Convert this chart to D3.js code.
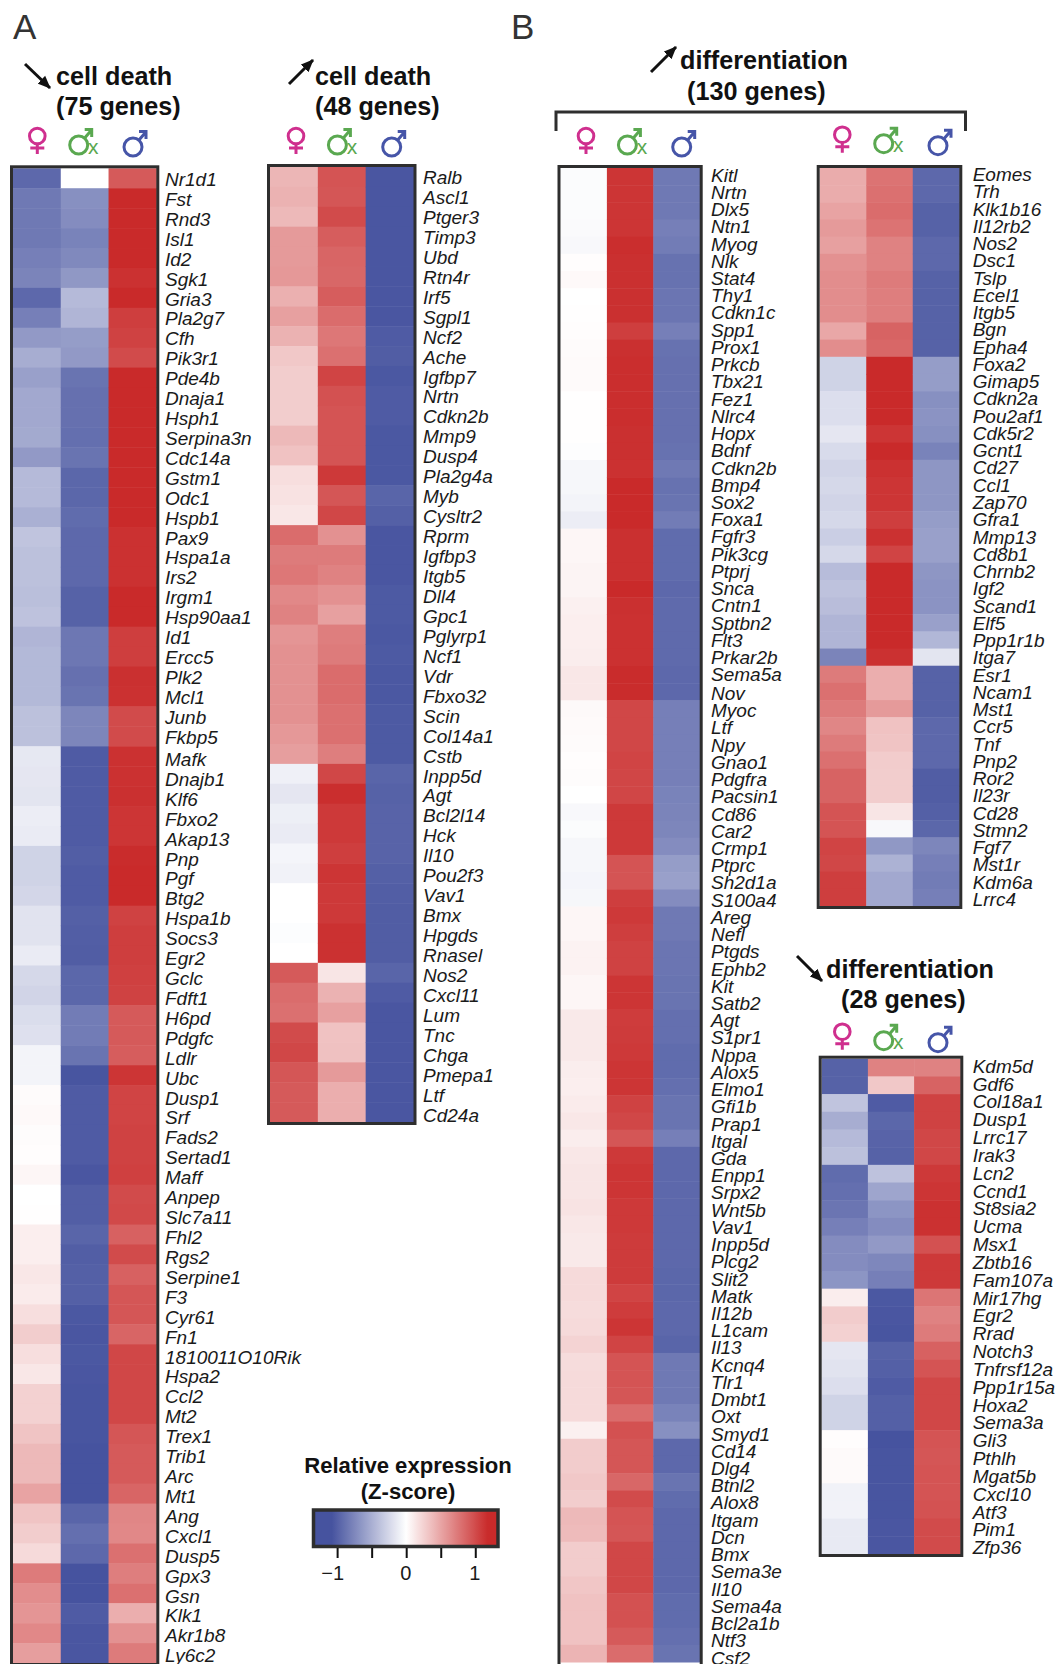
<!DOCTYPE html>
<html>
<head>
<meta charset="utf-8">
<style>
body { margin:0; background:#fff; }
svg { display:block; }
text { font-family:"Liberation Sans", Arial, sans-serif; fill:#1a1a1a; }
.gene { font-size:19px; font-style:italic; }
.title { font-size:25.2px; font-weight:bold; fill:#111; }
.legend-title { font-size:22.1px; font-weight:bold; fill:#111; }
.letter { font-size:35px; fill:#333; }
</style>
</head>
<body>
<div id="chart"></div>
<script src="https://cdn.jsdelivr.net/npm/d3@7"></script>
<script>
/*DATA
------------------------------------------------------
*/
const groups = ["female", "xy", "male"];
const legendTicks = [-1, -0.5, 0, 0.5, 1];

/*A, cell death down, 75 genes*/
const deathDownGenes = ["Nr1d1","Fst","Rnd3","Isl1","Id2","Sgk1","Gria3","Pla2g7","Cfh","Pik3r1",
	"Pde4b","Dnaja1","Hsph1","Serpina3n","Cdc14a","Gstm1","Odc1","Hspb1","Pax9","Hspa1a",
	"Irs2","Irgm1","Hsp90aa1","Id1","Ercc5","Plk2","Mcl1","Junb","Fkbp5","Mafk",
	"Dnajb1","Klf6","Fbxo2","Akap13","Pnp","Pgf","Btg2","Hspa1b","Socs3","Egr2",
	"Gclc","Fdft1","H6pd","Pdgfc","Ldlr","Ubc","Dusp1","Srf","Fads2","Sertad1",
	"Maff","Anpep","Slc7a11","Fhl2","Rgs2","Serpine1","F3","Cyr61","Fn1","1810011O10Rik",
	"Hspa2","Ccl2","Mt2","Trex1","Trib1","Arc","Mt1","Ang","Cxcl1","Dusp5",
	"Gpx3","Gsn","Klk1","Akr1b8","Ly6c2"];
const deathDownFemale = [-.92,-.82,-.82,-.82,-.78,-.75,-.92,-.78,-.62,-.5,
	-.58,-.53,-.53,-.52,-.62,-.42,-.42,-.48,-.36,-.38,
	-.38,-.39,-.37,-.45,-.43,-.43,-.43,-.38,-.38,-.14,
	-.15,-.16,-.11,-.12,-.27,-.27,-.25,-.17,-.17,-.12,
	-.24,-.26,-.21,-.19,-.07,-.07,.02,.03,.015,.01,
	.05,0,.005,.09,.09,.13,.11,.18,.27,.18,
	.13,.25,.25,.32,.38,.38,.5,.32,.27,.2,
	.72,.62,.58,.65,.53];
const deathDownXy = [0,-.68,-.7,-.76,-.72,-.63,-.42,-.45,-.6,-.62,
	-.85,-.87,-.87,-.88,-.85,-.93,-.93,-.9,-.92,-.92,
	-.92,-.96,-.96,-.83,-.83,-.87,-.85,-.74,-.74,-1,
	-1,-1,-1,-1,-.98,-1,-1,-.97,-.98,-.99,
	-.93,-.93,-.8,-.8,-.85,-1.04,-1,-1,-1,-1,
	-1.03,-.98,-.98,-.94,-.98,-.97,-.97,-1.02,-1.03,-1.02,
	-1.03,-1.04,-1.04,-1.04,-1.05,-1.05,-1.05,-.94,-.88,-.92,
	-1.05,-1.05,-1,-1.03,-1.03];
const deathDownMale = [.9,1.18,1.18,1.2,1.18,1.12,1.18,1.05,1.03,.98,
	1.17,1.18,1.18,1.18,1.18,1.17,1.17,1.16,1.12,1.12,
	1.12,1.18,1.18,1.05,1.05,1.13,1.12,.98,.98,1.12,
	1.12,1.13,1.1,1.1,1.15,1.17,1.16,1.03,1.05,1.05,
	1.04,1.03,.9,.9,.88,1.1,1.02,1.02,1.03,1.03,
	1.04,.98,.99,.86,.98,.86,.92,.92,.84,1,
	1,1,1,.92,.9,.9,.84,.66,.65,.78,
	.7,.78,.44,.6,.72];

/*A, cell death up, 48 genes*/
const deathUpGenes = ["Ralb","Ascl1","Ptger3","Timp3","Ubd","Rtn4r","Irf5","Sgpl1","Ncf2","Ache",
	"Igfbp7","Nrtn","Cdkn2b","Mmp9","Dusp4","Pla2g4a","Myb","Cysltr2","Rprm","Igfbp3",
	"Itgb5","Dll4","Gpc1","Pglyrp1","Ncf1","Vdr","Fbxo32","Scin","Col14a1","Cstb",
	"Inpp5d","Agt","Bcl2l14","Hck","Il10","Pou2f3","Vav1","Bmx","Hpgds","Rnasel",
	"Nos2","Cxcl11","Lum","Tnc","Chga","Pmepa1","Ltf","Cd24a"];
const deathUpFemale = [.4,.42,.38,.55,.55,.56,.43,.52,.42,.3,
	.27,.27,.27,.38,.33,.18,.16,.13,.8,.72,
	.74,.65,.68,.58,.6,.6,.6,.6,.56,.53,
	-.09,-.15,-.1,-.12,-.06,-.08,0,0,-.015,0,
	.9,.8,.78,.98,1,.92,.9,.9];
const deathUpXy = [.93,.92,.98,.88,.84,.83,.88,.8,.74,.78,
	1.02,.95,.93,.93,.93,1.08,.92,1,.6,.72,
	.68,.6,.52,.7,.72,.8,.8,.78,.78,.7,
	1,1.14,1.08,1.08,1.05,1.1,1.08,1.08,1.12,1.12,
	.14,.42,.52,.33,.34,.55,.44,.44];
const deathUpMale = [-1.03,-1.03,-1.03,-1.03,-1.03,-1.03,-1.03,-1.03,-1,-.99,
	-1.02,-1,-1,-1.02,-1.02,-1.02,-.94,-.97,-1.03,-1.03,
	-1.03,-1.01,-1.01,-1.02,-1.01,-1.02,-1.02,-1.01,-1.01,-1.01,
	-.94,-.96,-.95,-.95,-.95,-.97,-.98,-.99,-.99,-.99,
	-.94,-1,-1.03,-1.03,-1.03,-1.03,-1.03,-1.03];

/*B, differentiation up, left column (first 87 of the 130 are on the page)*/
const diffUpLeftGenes = ["Kitl","Nrtn","Dlx5","Ntn1","Myog","Nlk","Stat4","Thy1","Cdkn1c","Spp1",
	"Prox1","Prkcb","Tbx21","Fez1","Nlrc4","Hopx","Bdnf","Cdkn2b","Bmp4","Sox2",
	"Foxa1","Fgfr3","Pik3cg","Ptprj","Snca","Cntn1","Sptbn2","Flt3","Prkar2b","Sema5a",
	"Nov","Myoc","Ltf","Npy","Gnao1","Pdgfra","Pacsin1","Cd86","Car2","Crmp1",
	"Ptprc","Sh2d1a","S100a4","Areg","Nefl","Ptgds","Ephb2","Kit","Satb2","Agt",
	"S1pr1","Nppa","Alox5","Elmo1","Gfi1b","Prap1","Itgal","Gda","Enpp1","Srpx2",
	"Wnt5b","Vav1","Inpp5d","Plcg2","Slit2","Matk","Il12b","L1cam","Il13","Kcnq4",
	"Tlr1","Dmbt1","Oxt","Smyd1","Cd14","Dlg4","Btnl2","Alox8","Itgam","Dcn",
	"Bmx","Sema3e","Il10","Sema4a","Bcl2a1b","Ntf3","Csf2"];
const diffUpLeftFemale = [-.02,-.02,-.02,-.03,-.04,.01,.03,0,.005,.01,
	.02,.025,.025,.005,.005,.005,-.01,-.05,-.05,-.07,
	-.11,.05,.05,.06,.06,.08,.09,.09,.1,.13,
	.13,.035,.025,.02,.01,.015,0,-.04,-.02,-.05,
	-.05,-.06,-.05,.05,.05,.07,.07,.05,.05,.12,
	.12,.12,.1,.09,.11,.13,.1,.13,.14,.14,
	.15,.13,.12,.12,.2,.2,.19,.2,.24,.19,
	.2,.2,.2,.08,.28,.28,.3,.27,.38,.37,
	.28,.28,.31,.33,.33,.33,.41];
const diffUpLeftXy = [1.1,1.1,1.1,1.1,1.14,1.13,1.13,1.13,1.13,1.05,
	1.13,1.14,1.14,1.14,1.14,1.13,1.13,1.12,1.18,1.16,
	1.16,1.13,1.13,1.13,1.16,1.13,1.12,1.12,1.12,1.15,
	1.15,1,1,1,1.02,1.01,1.01,1.08,1.08,1.08,
	.93,.93,1.05,1.08,1.05,1.03,1.03,1.1,1.1,1.06,
	1.07,1.08,1.1,1.1,1.03,1,.92,1.08,1.1,1.1,
	1.08,1.08,1.07,1.07,1.07,1.02,1.06,1.1,1.02,.93,
	.93,.92,.8,.95,.92,.92,.83,.98,.93,.92,
	1,1,1,.95,.95,.9,.8];
const diffUpLeftMale = [-.82,-.82,-.82,-.78,-.8,-.86,-.86,-.84,-.84,-.78,
	-.86,-.87,-.87,-.87,-.87,-.87,-.86,-.82,-.86,-.85,
	-.8,-.9,-.9,-.9,-.92,-.91,-.91,-.91,-.91,-.92,
	-.92,-.78,-.78,-.78,-.78,-.78,-.76,-.75,-.74,-.7,
	-.6,-.58,-.7,-.82,-.82,-.84,-.84,-.85,-.85,-.88,
	-.88,-.9,-.9,-.88,-.85,-.85,-.78,-.92,-.92,-.92,
	-.92,-.92,-.92,-.92,-.93,-.93,-.92,-.92,-.94,-.82,
	-.82,-.82,-.76,-.68,-.92,-.92,-.85,-.9,-.92,-.92,
	-.92,-.92,-.92,-.9,-.9,-.88,-.85];

/*B, differentiation up, right column*/
const diffUpRightGenes = ["Eomes","Trh","Klk1b16","Il12rb2","Nos2","Dsc1","Tslp","Ecel1","Itgb5","Bgn",
	"Epha4","Foxa2","Gimap5","Cdkn2a","Pou2af1","Cdk5r2","Gcnt1","Cd27","Ccl1","Zap70",
	"Gfra1","Mmp13","Cd8b1","Chrnb2","Igf2","Scand1","Elf5","Ppp1r1b","Itga7","Esr1",
	"Ncam1","Mst1","Ccr5","Tnf","Pnp2","Ror2","Il23r","Cd28","Stmn2","Fgf7",
	"Mst1r","Kdm6a","Lrrc4"];
const diffUpRightFemale = [.45,.45,.5,.55,.52,.6,.62,.62,.62,.48,
	.62,-.27,-.27,-.2,-.2,-.15,-.22,-.26,-.24,-.26,
	-.24,-.3,-.24,-.41,-.37,-.4,-.45,-.45,-.75,.72,
	.78,.72,.66,.72,.78,.85,.85,.93,.93,1.02,
	1,1.05,1.05];
const diffUpRightXy = [.76,.78,.8,.76,.68,.68,.72,.7,.7,.85,
	.83,1.16,1.16,1.17,1.17,1.1,1.18,1.12,1.1,1.1,
	1.05,1.12,1.02,1.18,1.18,1.17,1.18,1.16,1.12,.44,
	.44,.55,.33,.32,.28,.27,.27,.14,-.04,-.63,
	-.47,-.53,-.53];
const diffUpRightMale = [-.92,-.92,-.96,-.96,-.92,-.92,-.96,-.96,-.96,-.96,
	-.96,-.6,-.6,-.68,-.66,-.68,-.76,-.64,-.64,-.64,
	-.6,-.58,-.58,-.64,-.66,-.66,-.58,-.44,-.16,-.96,
	-.96,-.96,-.92,-.92,-.92,-.99,-.99,-.97,-.93,-.74,
	-.78,-.8,-.78];

/*B, differentiation down, 28 genes*/
const diffDownGenes = ["Kdm5d","Gdf6","Col18a1","Dusp1","Lrrc17","Irak3","Lcn2","Ccnd1","St8sia2","Ucma",
	"Msx1","Zbtb16","Fam107a","Mir17hg","Egr2","Rrad","Notch3","Tnfrsf12a","Ppp1r15a","Hoxa2",
	"Sema3a","Gli3","Pthlh","Mgat5b","Cxcl10","Atf3","Pim1","Zfp36"];
const diffDownFemale = [-.96,-.96,-.36,-.5,-.42,-.38,-.9,-.88,-.84,-.78,
	-.7,-.7,-.65,.1,.28,.25,-.15,-.17,-.2,-.27,
	-.27,.01,.025,.025,-.08,-.08,-.13,-.13];
const diffDownXy = [.68,.3,-1,-.93,-.95,-.96,-.37,-.55,-.65,-.7,
	-.62,-.73,-.78,-1.02,-1.03,-1.04,-.96,-.97,-1,-.97,
	-.97,-1.05,-1.04,-1.04,-1.04,-1.04,-1.03,-1.03];
const diffDownMale = [.68,.85,1.03,1.03,1,1,1.08,1.1,1.12,1.12,
	.95,1.08,1.08,.75,.68,.72,.86,.93,1,1,
	1,.93,.92,.93,.93,.94,.98,.98];

/*GLOBAL
------------------------------------------------------
*/
const width = 1056;
const height = 1664;

const svg = d3.select("#chart").append("svg")
	.attr("width", width)
	.attr("height", height);

const color = d3.scaleLinear()
	.domain([-1.05, 0, 1.16])
	.range(["#46539f", "#ffffff", "#c92a2a"])
	.clamp(true);

/*arrow head shared by all the title arrows*/
svg.append("defs").append("marker")
	.attr("id", "head")
	.attr("markerUnits", "userSpaceOnUse")
	.attr("markerWidth", 14)
	.attr("markerHeight", 12)
	.attr("refX", 12)
	.attr("refY", 6)
	.attr("orient", "auto")
	.append("path")
	.attr("d", "M0,0.5L13,6L0,11.5z")
	.attr("fill", "#111");

/*HEATMAPS
------------------------------------------------------
*/
function heatmap(genes, female, xy, male, box) {
	const values = {female: female, xy: xy, male: male};
	const x = d3.scaleBand().domain(groups).range([box.x0, box.x1]);
	const y = d3.scaleBand().domain(genes).range([box.y0, box.y1]);
	const labelY = d3.scalePoint().domain(genes).range([box.label0, box.label1]);

	const g = svg.append("g");

	groups.forEach(function(group) {
		g.append("g").selectAll("rect")
			.data(genes)
			.enter()
			.append("rect")
			.attr("x", x(group))
			.attr("y", d => y(d))
			.attr("width", x.bandwidth() + 0.5)
			.attr("height", y.bandwidth() + 0.5)
			.attr("fill", (d, i) => color(values[group][i]));
	});

	/*the labels were set in two text blocks, the lower one sits a little lower*/
	g.append("g").selectAll("text")
		.data(genes)
		.enter()
		.append("text")
		.attr("class", "gene")
		.attr("x", box.labelX)
		.attr("y", (d, i) => labelY(d) + (box.jumpAt && i >= box.jumpAt ? box.jumpBy : 0))
		.text(d => d);

	g.append("rect")
		.attr("x", box.x0 - 1.5)
		.attr("y", box.y0 - 1.5)
		.attr("width", box.x1 - box.x0 + 3)
		.attr("height", (box.frameBottom || box.y1) - box.y0 + 3)
		.attr("fill", "none")
		.attr("stroke", "#2e2e2e")
		.attr("stroke-width", 3);
}

heatmap(deathDownGenes, deathDownFemale, deathDownXy, deathDownMale,
	{x0:13, x1:156.3, y0:168.3, y1:1663, labelX:165, label0:186, label1:1660, jumpAt:29, jumpBy:2.3});
heatmap(deathUpGenes, deathUpFemale, deathUpXy, deathUpMale,
	{x0:270, x1:413.5, y0:167, y1:1122, labelX:423, label0:184, label1:1121.7});
heatmap(diffUpLeftGenes, diffUpLeftFemale, diffUpLeftXy, diffUpLeftMale,
	{x0:560.5, x1:699.7, y0:168, y1:1662, frameBottom:1680, labelX:711, label0:181.7, label1:1663, jumpAt:30, jumpBy:1.5});
heatmap(diffUpRightGenes, diffUpRightFemale, diffUpRightXy, diffUpRightMale,
	{x0:819.7, x1:959.3, y0:168, y1:906, labelX:972.7, label0:181, label1:906});
heatmap(diffDownGenes, diffDownFemale, diffDownXy, diffDownMale,
	{x0:821.7, x1:960.3, y0:1058.7, y1:1554, labelX:972.7, label0:1072.7, label1:1554.3});

/*TITLES
------------------------------------------------------
*/
function title(text, x, y) {
	svg.append("text").attr("class", "title").attr("x", x).attr("y", y).text(text);
}

function arrow(x1, y1, x2, y2) {
	svg.append("line")
		.attr("x1", x1).attr("y1", y1)
		.attr("x2", x2).attr("y2", y2)
		.attr("stroke", "#111")
		.attr("stroke-width", 3)
		.attr("marker-end", "url(#head)");
}

title("cell death", 56, 85);
title("(75 genes)", 56, 115);
arrow(25, 64, 50, 88);

title("cell death", 315, 85);
title("(48 genes)", 315, 115);
arrow(289, 84, 313, 60);

title("differentiation", 680, 69);
title("(130 genes)", 687, 100);
arrow(651, 72, 676, 47);

title("differentiation", 826, 978);
title("(28 genes)", 841, 1008);
arrow(797, 956, 822, 981);

svg.append("text").attr("class", "letter").attr("x", 13).attr("y", 39).text("A");
svg.append("text").attr("class", "letter").attr("x", 511).attr("y", 39).text("B");

/*bracket above the two differentiation columns*/
svg.append("path")
	.attr("d", d3.line()([[556, 131], [556, 112], [965.5, 112], [965.5, 131]]))
	.attr("fill", "none")
	.attr("stroke", "#2e2e2e")
	.attr("stroke-width", 3);

/*SEX SYMBOLS
------------------------------------------------------
*/
function femaleSymbol(g, cx, cy) {
	g.append("circle").attr("cx", cx).attr("cy", cy).attr("r", 7.8)
		.attr("fill", "none").attr("stroke", "#cf2f8e").attr("stroke-width", 3);
	g.append("path")
		.attr("d", d3.line()([[cx, cy + 8], [cx, cy + 18]]) + d3.line()([[cx - 7, cy + 12], [cx + 7, cy + 12]]))
		.attr("fill", "none").attr("stroke", "#cf2f8e").attr("stroke-width", 3);
}

function maleSymbol(g, cx, cy, stroke) {
	g.append("circle").attr("cx", cx).attr("cy", cy).attr("r", 9)
		.attr("fill", "none").attr("stroke", stroke).attr("stroke-width", 3);
	g.append("path")
		.attr("d", d3.line()([[cx + 6, cy - 7], [cx + 12, cy - 14]]) + d3.line()([[cx + 6, cy - 15.5], [cx + 13, cy - 15.5], [cx + 13, cy - 8]]))
		.attr("fill", "none").attr("stroke", stroke).attr("stroke-width", 3);
}

function symbols(dx, dy) {
	const g = svg.append("g");
	femaleSymbol(g, 37.3 + dx, 136 + dy);
	maleSymbol(g, 78.7 + dx, 145 + dy, "#5aa850");
	g.append("text")
		.attr("x", 88 + dx)
		.attr("y", 153.5 + dy)
		.attr("font-size", 21)
		.style("fill", "#5aa850")
		.text("x");
	maleSymbol(g, 133 + dx, 147 + dy, "#4655a8");
}

symbols(0, 0);
symbols(258.7, 0);
symbols(548.7, 0);
symbols(805, -1.3);
symbols(805, 895.7);

/*LEGEND
------------------------------------------------------
*/
const legendX = d3.scaleLinear().domain([-1.31, 1.3]).range([315.7, 496]);

const gradient = svg.select("defs").append("linearGradient").attr("id", "zscore");
d3.range(-1.3, 1.31, 0.05).forEach(function(z) {
	gradient.append("stop")
		.attr("offset", (legendX(z) - 315.7) / (496 - 315.7))
		.attr("stop-color", color(z));
});

svg.append("text").attr("class", "legend-title").attr("x", 408).attr("y", 1473)
	.attr("text-anchor", "middle").text("Relative expression");
svg.append("text").attr("class", "legend-title").attr("x", 408).attr("y", 1499)
	.attr("text-anchor", "middle").text("(Z-score)");

svg.append("rect")
	.attr("x", 313.5)
	.attr("y", 1510)
	.attr("width", 184.5)
	.attr("height", 36.5)
	.attr("fill", "url(#zscore)")
	.attr("stroke", "#2e2e2e")
	.attr("stroke-width", 3.5);

const legendAxis = d3.axisBottom(legendX)
	.tickValues(legendTicks)
	.tickSize(10)
	.tickPadding(8)
	.tickFormat(d => Number.isInteger(d) ? String(d).replace("-", "\u2212") : "");

const axisG = svg.append("g")
	.attr("transform", "translate(0,1548)")
	.call(legendAxis);
axisG.select(".domain").remove();
axisG.selectAll("line").attr("stroke", "#111").attr("stroke-width", 2);
axisG.selectAll("text")
	.attr("font-family", "Liberation Sans")
	.attr("font-size", 20)
	.attr("dx", d => d < 0 ? -5 : -1)
	.style("fill", "#1a1a1a");
</script>
</body>
</html>
